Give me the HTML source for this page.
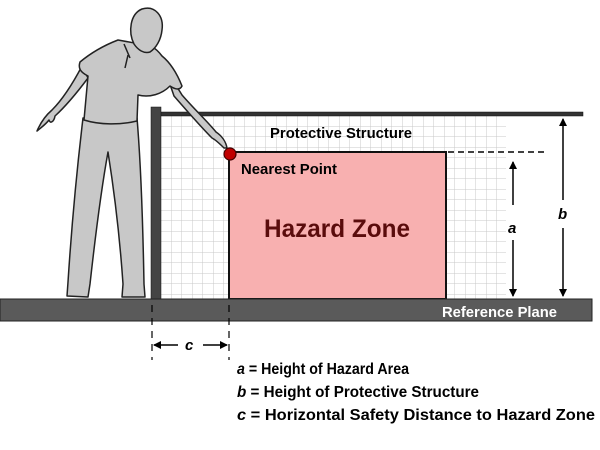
<!DOCTYPE html>
<html><head><meta charset="utf-8"><style>
html,body{margin:0;padding:0;background:#fff;width:600px;height:450px;overflow:hidden}
svg{display:block}
text{font-family:"Liberation Sans",sans-serif;font-weight:bold}
</style></head><body>
<svg width="600" height="450" viewBox="0 0 600 450">
<defs>
<pattern id="grid" x="161" y="116" width="10.5" height="10.5" patternUnits="userSpaceOnUse">
<path d="M10.5 0V10.5M0 10.5H10.5" stroke="#c8c8c8" stroke-width="1" fill="none"/>
</pattern>
<marker id="ah" markerWidth="8" markerHeight="8" refX="7" refY="4" orient="auto" markerUnits="userSpaceOnUse"><path d="M0,0 L8,4 L0,8z" fill="#000"/></marker>
</defs>
<rect x="161" y="116" width="345" height="183" fill="url(#grid)"/>
<rect x="158" y="112" width="425" height="4" fill="#333" stroke="#111" stroke-width="0.5"/>
<rect x="151" y="107" width="10" height="193" fill="#444" stroke="#111" stroke-width="0.5"/>
<text x="270" y="138" font-size="15" textLength="142" lengthAdjust="spacingAndGlyphs">Protective Structure</text>
<rect x="229" y="152" width="217" height="147" fill="#f8b0b0" stroke="#111" stroke-width="2"/>
<text x="264" y="237" font-size="25" fill="#5a0c0c" textLength="146" lengthAdjust="spacingAndGlyphs">Hazard Zone</text>
<text x="241" y="174" font-size="15" textLength="96" lengthAdjust="spacingAndGlyphs">Nearest Point</text>
<path d="M448 152H545" stroke="#000" stroke-width="1.5" stroke-dasharray="6,4"/>
<line x1="513" y1="205" x2="513" y2="162" stroke="#000" stroke-width="1.5" marker-end="url(#ah)"/>
<line x1="513" y1="240" x2="513" y2="296" stroke="#000" stroke-width="1.5" marker-end="url(#ah)"/>
<text x="508" y="233" font-size="15" font-style="italic">a</text>
<line x1="563" y1="200" x2="563" y2="119" stroke="#000" stroke-width="1.5" marker-end="url(#ah)"/>
<line x1="563" y1="228" x2="563" y2="296" stroke="#000" stroke-width="1.5" marker-end="url(#ah)"/>
<text x="558" y="219" font-size="15" font-style="italic">b</text>
<rect x="0" y="299" width="592" height="22" fill="#5a5a5a" stroke="#222" stroke-width="1"/>
<text x="442" y="317" font-size="15" fill="#fff" textLength="115" lengthAdjust="spacingAndGlyphs">Reference Plane</text>
<path d="M152 305V360M229 305V360" stroke="#000" stroke-width="1.2" stroke-dasharray="7,6"/>
<line x1="178" y1="345" x2="154" y2="345" stroke="#000" stroke-width="1.5" marker-end="url(#ah)"/>
<line x1="203" y1="345" x2="227" y2="345" stroke="#000" stroke-width="1.5" marker-end="url(#ah)"/>
<text x="185" y="350" font-size="15" font-style="italic">c</text>
<g fill="#c8c8c8" stroke="#222" stroke-width="1.5" stroke-linejoin="round">
<path d="M83 118 C78 160 72 220 68 282 L67 296 L88 297 L90 284 C96 230 102 185 108 152 C114 190 120 240 123 284 L122 297 L145 297 L144 284 C143 230 141 165 137 118 Z"/>
<path d="M165 70 C172 80 178 88 182 95 C195 110 208 122 216 132 C222 136 226 142 227 148 L224 148 C220 144 216 140 212 138 C200 126 188 112 174 96 Z"/>
<path d="M82 66 C72 85 62 100 52 110 C45 116 40 124 37 131 C42 127 46 124 49 120 C50 124 54 122 55 116 C66 106 76 94 88 78 Z"/>
<path d="M118 40 C105 45 92 52 80 62 C78 68 80 72 88 76 L84 120 C100 125 120 125 137 121 L138 95 C150 98 162 94 170 86 C176 90 180 90 182 86 C178 76 172 64 162 56 C156 48 150 44 140 44 Z"/>
<path d="M134 44 C128 32 130 14 142 9 C155 5 164 16 162 30 C161 40 156 48 150 52 C144 54 138 50 134 44 Z"/>
<path d="M124 44 L130 58 M128 55 L125 68" fill="none"/>
</g>
<circle cx="230" cy="154" r="6" fill="#c00000" stroke="#400" stroke-width="1.2"/>
<g font-size="16">
<text x="237" y="374" textLength="172" lengthAdjust="spacingAndGlyphs"><tspan font-style="italic">a</tspan> = Height of Hazard Area</text>
<text x="237" y="397" textLength="242" lengthAdjust="spacingAndGlyphs"><tspan font-style="italic">b</tspan> = Height of Protective Structure</text>
<text x="237" y="420" textLength="358" lengthAdjust="spacingAndGlyphs"><tspan font-style="italic">c</tspan> = Horizontal Safety Distance to Hazard Zone</text>
</g>
</svg>
</body></html>
